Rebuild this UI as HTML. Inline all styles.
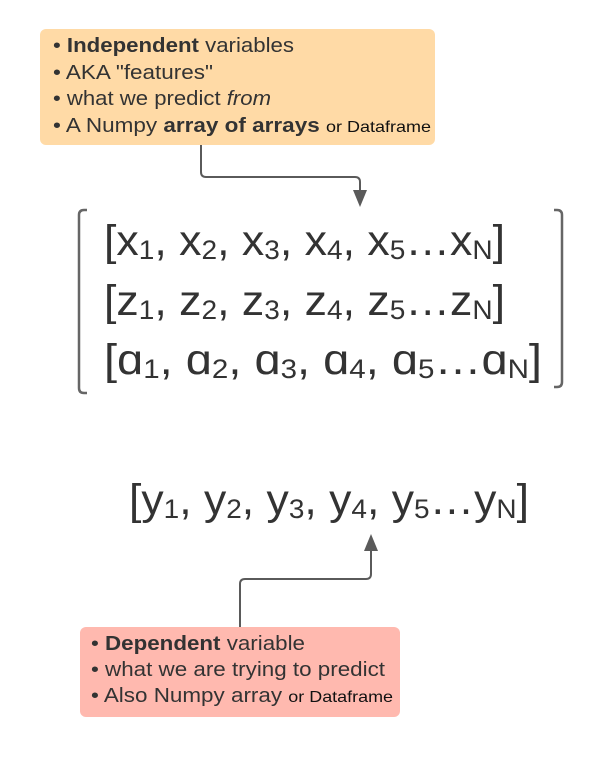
<!DOCTYPE html>
<html><head><meta charset="utf-8"><style>
html,body{margin:0;padding:0;background:#fff;}
svg{display:block;font-family:"Liberation Sans",sans-serif;}
</style></head><body>
<svg width="609" height="757" viewBox="0 0 609 757" xmlns="http://www.w3.org/2000/svg">
<rect x="40" y="29" width="395" height="116" rx="6" fill="#FFDAA6"/>
<g fill="#333" font-size="20">
<text x="53" y="52" textLength="241" lengthAdjust="spacingAndGlyphs">• <tspan font-weight="bold">Independent</tspan> variables</text>
<text x="53" y="79" textLength="160" lengthAdjust="spacingAndGlyphs">• AKA "features"</text>
<text x="53" y="105" textLength="218" lengthAdjust="spacingAndGlyphs">• what we predict <tspan font-style="italic">from</tspan></text>
<text x="53" y="132" textLength="378" lengthAdjust="spacingAndGlyphs">• A Numpy <tspan font-weight="bold">array of arrays</tspan> <tspan font-size="16" fill="#111">or Dataframe</tspan></text>
</g>
<path d="M201 145 V172 Q201 177 206 177 H355 Q360 177 360 182 V192" fill="none" stroke="#5a5a5a" stroke-width="2"/>
<path d="M353 190 L367 190 L360 207 Z" fill="#5a5a5a"/>
<path d="M87 210 H84 Q79 210 79 215 V388 Q79 393 84 393 H87" fill="none" stroke="#666" stroke-width="2.5"/>
<path d="M554 210 H557 Q562 210 562 215 V382 Q562 387 557 387 H554" fill="none" stroke="#666" stroke-width="2.5"/>
<g fill="#333" font-size="43">
<text x="104" y="255" textLength="401" lengthAdjust="spacingAndGlyphs">[x<tspan font-size="27" dy="4">1</tspan><tspan dy="-4">, x</tspan><tspan font-size="27" dy="4">2</tspan><tspan dy="-4">, x</tspan><tspan font-size="27" dy="4">3</tspan><tspan dy="-4">, x</tspan><tspan font-size="27" dy="4">4</tspan><tspan dy="-4">, x</tspan><tspan font-size="27" dy="4">5</tspan><tspan dy="-4">…x</tspan><tspan font-size="27" dy="4">N</tspan><tspan dy="-4">]</tspan></text>
<text x="104" y="315" textLength="401" lengthAdjust="spacingAndGlyphs">[z<tspan font-size="27" dy="4">1</tspan><tspan dy="-4">, z</tspan><tspan font-size="27" dy="4">2</tspan><tspan dy="-4">, z</tspan><tspan font-size="27" dy="4">3</tspan><tspan dy="-4">, z</tspan><tspan font-size="27" dy="4">4</tspan><tspan dy="-4">, z</tspan><tspan font-size="27" dy="4">5</tspan><tspan dy="-4">…z</tspan><tspan font-size="27" dy="4">N</tspan><tspan dy="-4">]</tspan></text>
<text x="104" y="374" textLength="438" lengthAdjust="spacingAndGlyphs">[ɑ<tspan font-size="27" dy="4">1</tspan><tspan dy="-4">, ɑ</tspan><tspan font-size="27" dy="4">2</tspan><tspan dy="-4">, ɑ</tspan><tspan font-size="27" dy="4">3</tspan><tspan dy="-4">, ɑ</tspan><tspan font-size="27" dy="4">4</tspan><tspan dy="-4">, ɑ</tspan><tspan font-size="27" dy="4">5</tspan><tspan dy="-4">…ɑ</tspan><tspan font-size="27" dy="4">N</tspan><tspan dy="-4">]</tspan></text>
<text x="129" y="514" textLength="400" lengthAdjust="spacingAndGlyphs">[y<tspan font-size="27" dy="4">1</tspan><tspan dy="-4">, y</tspan><tspan font-size="27" dy="4">2</tspan><tspan dy="-4">, y</tspan><tspan font-size="27" dy="4">3</tspan><tspan dy="-4">, y</tspan><tspan font-size="27" dy="4">4</tspan><tspan dy="-4">, y</tspan><tspan font-size="27" dy="4">5</tspan><tspan dy="-4">…y</tspan><tspan font-size="27" dy="4">N</tspan><tspan dy="-4">]</tspan></text>
</g>
<path d="M240 627 V584 Q240 579 245 579 H366 Q371 579 371 574 V550" fill="none" stroke="#5a5a5a" stroke-width="2"/>
<path d="M364 551 L378 551 L371 534 Z" fill="#5a5a5a"/>
<rect x="80" y="627" width="320" height="90" rx="6" fill="#FFB9AF"/>
<g fill="#333" font-size="20">
<text x="91" y="650" textLength="214" lengthAdjust="spacingAndGlyphs">• <tspan font-weight="bold">Dependent</tspan> variable</text>
<text x="91" y="676" textLength="294" lengthAdjust="spacingAndGlyphs">• what we are trying to predict</text>
<text x="91" y="702" textLength="302" lengthAdjust="spacingAndGlyphs">• Also Numpy array <tspan font-size="16" fill="#111">or Dataframe</tspan></text>
</g>
</svg>
</body></html>
